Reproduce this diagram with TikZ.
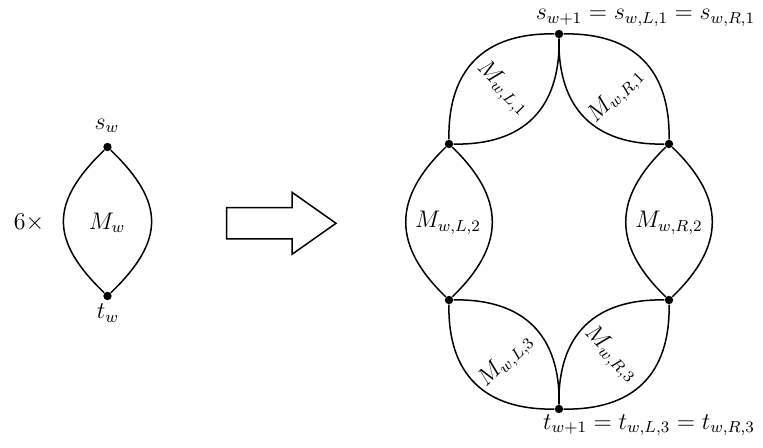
\documentclass[tikz,border=0pt]{standalone}
\begin{document}
\begin{tikzpicture}[x=0.5pt,y=0.5pt,
  dot/.style={circle,fill=black,inner sep=0pt,minimum size=4.2pt},
  edge/.style={line width=0.75pt},
  lbl/.style={inner sep=0pt,font=\fontsize{11.5}{13}\selectfont}]
\useasboundingbox (0,0) rectangle (763,448);
% left lens
\node[dot] (sw) at (107.5,301) {};
\node[dot] (tw) at (107.5,152) {};
\draw[edge] (sw) to[out=-44,in=44,looseness=1.36] (tw);
\draw[edge] (sw) to[out=-136,in=136,looseness=1.36] (tw);
\node[lbl] (swl) at (107,322) {$s_w$};
\node[lbl] (twl) at (108,135) {$t_w$};
\node[lbl] (mw) at (107,225) {$M_w$};
\node[lbl] (six) at (29,225) {$6\times$};
% big arrow
\draw[edge] (226.7,240.3) -- (292,240.3) -- (292,255.7) -- (336,224.7)
  -- (292,193.7) -- (292,209) -- (226.7,209) -- cycle;
% right figure
\node[dot] (T) at (559,414) {};
\node[dot] (UL) at (449,304) {};
\node[dot] (UR) at (669,304) {};
\node[dot] (LL) at (449,148) {};
\node[dot] (LR) at (669,148) {};
\node[dot] (B) at (559,39) {};
\begin{scope}[looseness=1.2]
\draw[edge] (UL) to[out=91,in=179] (T);
\draw[edge] (UL) to[out=-1,in=271] (T);
\draw[edge] (UR) to[out=89,in=1] (T);
\draw[edge] (UR) to[out=181,in=269] (T);
\draw[edge] (LL) to[out=-91,in=181] (B);
\draw[edge] (LL) to[out=1,in=89] (B);
\draw[edge] (LR) to[out=-89,in=-1] (B);
\draw[edge] (LR) to[out=179,in=91] (B);
\end{scope}
\begin{scope}[looseness=1.27]
\draw[edge] (UL) to[out=-44,in=44] (LL);
\draw[edge] (UL) to[out=-136,in=136] (LL);
\draw[edge] (UR) to[out=-44,in=44] (LR);
\draw[edge] (UR) to[out=-136,in=136] (LR);
\end{scope}
\node[lbl,rotate=-45] (ml1) at (503,360) {$M_{w,L,1}$};
\node[lbl,rotate=45] (mr1) at (616,352) {$M_{w,R,1}$};
\node[lbl] (ml2) at (448,225) {$M_{w,L,2}$};
\node[lbl] (mr2) at (669,225) {$M_{w,R,2}$};
\node[lbl,rotate=45] (ml3) at (506,87) {$M_{w,L,3}$};
\node[lbl,rotate=-45] (mr3) at (611,94) {$M_{w,R,3}$};
\node[lbl] (top) at (645.5,430) {$s_{w+1} = s_{w,L,1} = s_{w,R,1}$};
\node[lbl] (bot) at (649,23) {$t_{w+1} = t_{w,L,3} = t_{w,R,3}$};
\end{tikzpicture}
\end{document}
